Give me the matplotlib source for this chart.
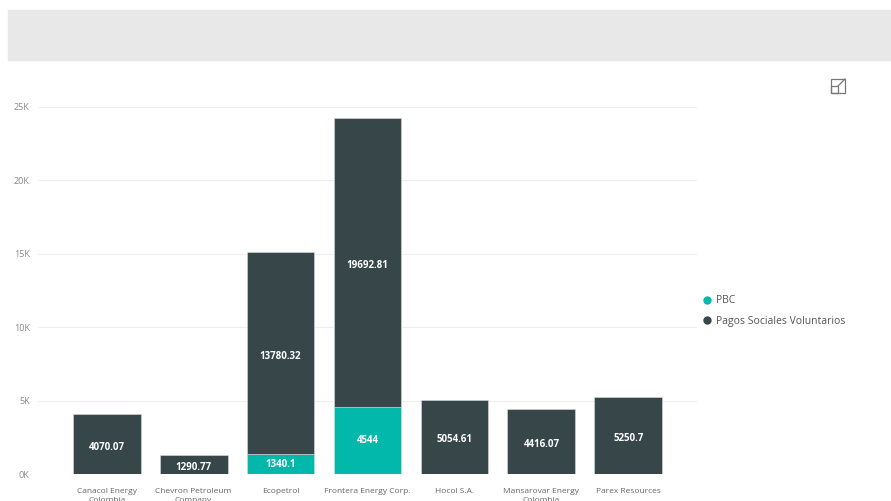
import matplotlib
matplotlib.use("Agg")
import matplotlib.pyplot as plt
from matplotlib.patches import Rectangle
from matplotlib.lines import Line2D

plt.rcParams['font.family'] = ['Open Sans', 'DejaVu Sans']

companies = ["Canacol Energy\nColombia", "Chevron Petroleum\nCompany", "Ecopetrol",
             "Frontera Energy Corp.", "Hocol S.A.", "Mansarovar Energy\nColombia",
             "Parex Resources"]
pbc = [0, 0, 1340.1, 4544, 0, 0, 0]
psv = [4070.07, 1290.77, 13780.32, 19692.81, 5054.61, 4416.07, 5250.7]
yticks = [0, 5000, 10000, 15000, 20000, 25000]
ytick_labels = ["0K", "5K", "10K", "15K", "20K", "25K"]

teal = "#01B8AA"
dark = "#374649"

fig = plt.figure(figsize=(8.91, 5.01), dpi=100)
# grey header band
fig.patches.append(Rectangle((8/891, 1-60/501), 1-8/891, 50/501,
                             transform=fig.transFigure, color="#e8e8e8", zorder=0))
# expand icon
fig.patches.append(Rectangle((831/891, 1-93/501), 14/891, 14/501, transform=fig.transFigure,
                             fill=False, ec="#777777", lw=0.9))
fig.patches.append(Rectangle((831/891, 1-93/501), 7/891, 7/501, transform=fig.transFigure,
                             fill=False, ec="#777777", lw=0.9))
fig.lines.append(Line2D([838/891, 845/891], [1-86/501, 1-79/501], transform=fig.transFigure,
                        color="#777777", lw=0.9))

ax = fig.add_axes([38/891, 27/501, (697-38)/891, (474-107)/501])
x = list(range(len(companies)))
ax.bar(x, pbc, width=0.78, color=teal, edgecolor="#dddddd", linewidth=0.4, zorder=2)
ax.bar(x, psv, width=0.78, bottom=pbc, color=dark, edgecolor="#dddddd", linewidth=0.4, zorder=2)

for i in x:
    if pbc[i] > 0:
        ax.text(i, pbc[i]/2, f"{pbc[i]:.2f}".rstrip("0").rstrip("."), ha="center", va="center",
                color="white", fontsize=7, fontweight="bold")
    ax.text(i, pbc[i] + psv[i]/2 - 200, f"{psv[i]:.2f}".rstrip("0").rstrip("."), ha="center",
            va="center", color="white", fontsize=7, fontweight="bold")

ax.set_xlim(-0.79, 6.79)
ax.set_ylim(0, 25000)
ax.set_yticks(yticks)
ax.set_yticklabels(ytick_labels)
ax.set_xticks(x)
ax.set_xticklabels(companies, linespacing=1.5)
ax.tick_params(axis="y", length=0, labelsize=6.5, colors="#888888", pad=6)
ax.tick_params(axis="x", length=0, labelsize=6, colors="#666666", pad=10)
ax.grid(axis="y", color="#eeeeee", linewidth=0.8, zorder=0)
ax.set_axisbelow(True)
for s in ax.spines.values():
    s.set_visible(False)

handles = [Line2D([], [], ls="", marker="o", ms=5, color=teal),
           Line2D([], [], ls="", marker="o", ms=5, color=dark)]
fig.legend(handles, ["PBC", "Pagos Sociales Voluntarios"], loc="upper left",
           bbox_to_anchor=(700/891, 1-291/501), frameon=False,
           handlelength=0.6, handletextpad=0.5, labelspacing=0.95, fontsize=7.5,
           labelcolor="#555555", borderaxespad=0)

fig.savefig("out.png", dpi=100)
